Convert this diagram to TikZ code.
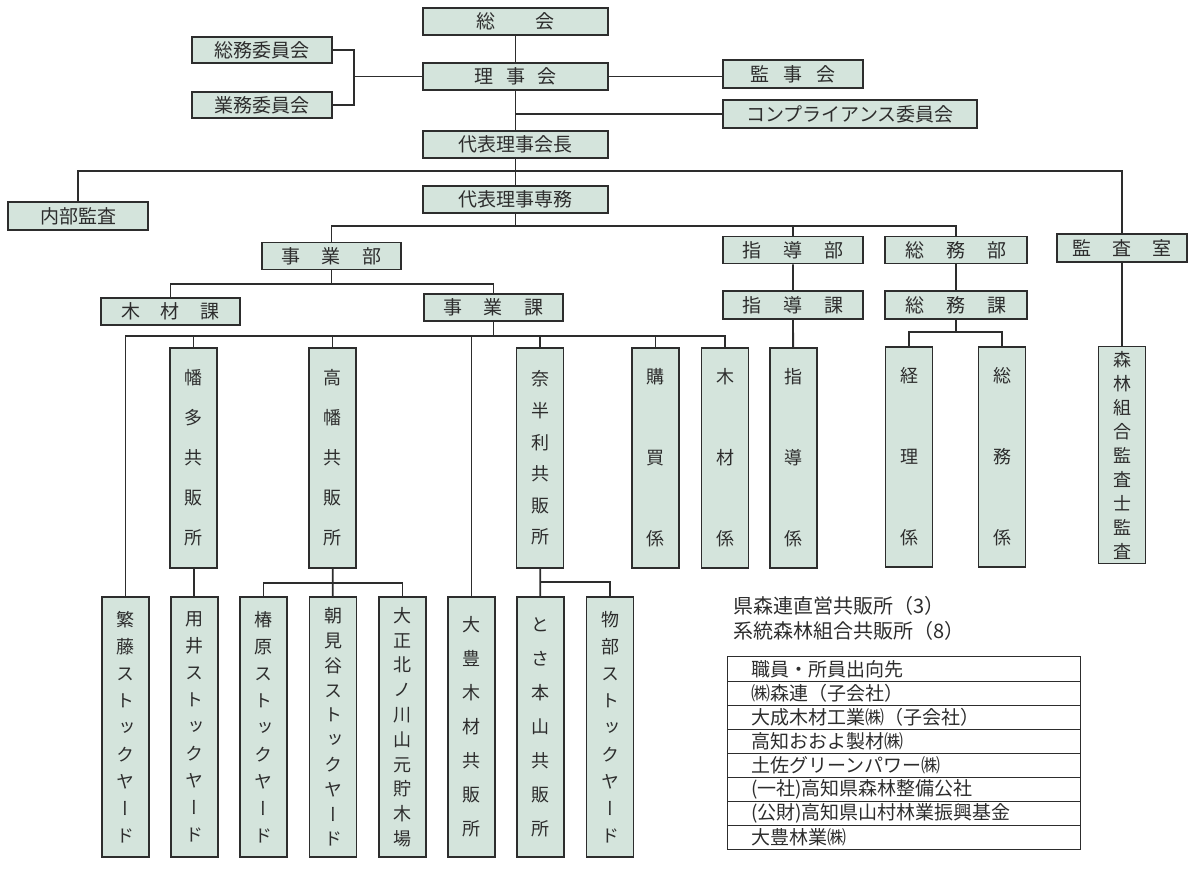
\documentclass[tikz,border=0pt]{standalone}
\usepackage{fontspec}
\usepackage{tikz}
\usetikzlibrary{positioning}
\newfontfamily\jp{Noto Sans CJK JP}
\newfontfamily\jpv[RawFeature=+vert]{Noto Sans CJK JP}
\definecolor{boxfill}{RGB}{212,228,220}
\definecolor{inkgray}{RGB}{45,45,45}
\tikzset{>=latex}
\tikzset{
	hbox/.style={draw=inkgray,fill=boxfill,line width=1.9pt,inner sep=0pt,minimum height=27pt,text=inkgray,font=\jp\fontsize{19pt}{22pt}\selectfont},
	vbox/.style={draw=inkgray,fill=boxfill,line width=1.9pt,inner sep=0pt,minimum width=47pt,text=inkgray,align=center},
	wire/.style={draw=inkgray,line width=1.8pt},
	rowbox/.style={draw=inkgray,line width=1pt,inner sep=0pt,minimum width=353pt,minimum height=24.1pt,text width=305pt,align=left,text=inkgray,font=\jp\fontsize{19pt}{22pt}\selectfont}
}
\newcommand\vfont[1]{\jpv\fontsize{18pt}{#1pt}\selectfont}
\newcommand\gap[1]{\hspace{#1pt}}

\begin{document}
\begin{tikzpicture}[x=1pt,y=-1pt]
	\useasboundingbox (0,0) rectangle (1194,880);

	% upper levels
	\node[hbox,minimum width=185pt] (sokai) at (515.5,21.5) {総\gap{41}会};
	\node[hbox,minimum width=185pt] (rijikai) at (515.5,76.5) {理\gap{13}事\gap{13}会};
	\node[hbox,minimum width=185pt] (kaicho) at (515.5,144.5) {代表理事会長};
	\node[hbox,minimum width=185pt] (senmu) at (515.5,199.5) {代表理事専務};
	\node[hbox,minimum width=140pt,minimum height=26pt] (somuiin) at (262,50) {総務委員会};
	\node[hbox,minimum width=140pt,minimum height=26pt] (gyomuiin) at (262,105) {業務委員会};
	\node[hbox,minimum width=140pt,minimum height=28pt] (kanjikai) at (793,74) {監\gap{14}事\gap{14}会};
	\node[hbox,minimum width=254pt,minimum height=28pt] (compl) at (850,114) {コンプライアンス委員会};
	\node[hbox,minimum width=140pt,minimum height=28pt] (naibu) at (78,216) {内部監査};

	\node[hbox,minimum width=139pt] (jigyobu) at (331.5,256) {事\gap{22}業\gap{22}部};
	\node[hbox,minimum width=140pt] (shidobu) at (793,250) {指\gap{22}導\gap{22}部};
	\node[hbox,minimum width=142pt] (somubu) at (956,250) {総\gap{22}務\gap{22}部};
	\node[hbox,minimum width=130pt,minimum height=28pt] (kansa) at (1122,248) {監\gap{21}査\gap{21}室};
	\node[hbox,minimum width=139pt] (mokuzaika) at (170.5,311.5) {木\gap{21}材\gap{21}課};
	\node[hbox,minimum width=139pt] (jigyoka) at (493.5,307.5) {事\gap{22}業\gap{22}課};
	\node[hbox,minimum width=140pt,minimum height=28pt] (shidoka) at (793,305) {指\gap{22}導\gap{22}課};
	\node[hbox,minimum width=142pt,minimum height=28pt] (somuka) at (956,305) {総\gap{22}務\gap{22}課};

	% first row of columns
	\node[vbox,minimum height=220pt,font=\vfont{40}] (hata) at (193.5,458) {幡\\多\\共\\販\\所};
	\node[vbox,minimum height=220pt,font=\vfont{40}] (takahata) at (332.5,458) {高\\幡\\共\\販\\所};
	\node[vbox,minimum height=220pt,font=\vfont{31.6}] (nahari) at (540,458) {奈\\半\\利\\共\\販\\所};
	\node[vbox,minimum height=220pt,font=\vfont{81}] (kobai) at (655.5,458) {購\\買\\係};
	\node[vbox,minimum height=220pt,font=\vfont{81}] (mokuzai) at (725,458) {木\\材\\係};
	\node[vbox,minimum height=220pt,font=\vfont{81}] (shido) at (793.5,458) {指\\導\\係};
	\node[vbox,minimum height=220pt,font=\vfont{81}] (keiri) at (909,457) {経\\理\\係};
	\node[vbox,minimum height=220pt,font=\vfont{81}] (somukakari) at (1002,457) {総\\務\\係};
	\node[vbox,minimum height=217pt,font=\vfont{24}] (mori) at (1122,455) {森\\林\\組\\合\\監\\査\\士\\監\\査};

	% second row of columns
	\node[vbox,minimum height=260pt,font=\vfont{27}] (shigefuji) at (125.5,727) {繁\\藤\\ス\\ト\\ッ\\ク\\ヤ\\ー\\ド};
	\node[vbox,minimum height=260pt,font=\vfont{27}] (yoi) at (194.5,727) {用\\井\\ス\\ト\\ッ\\ク\\ヤ\\ー\\ド};
	\node[vbox,minimum height=260pt,font=\vfont{27}] (tsubaki) at (263.5,727) {椿\\原\\ス\\ト\\ッ\\ク\\ヤ\\ー\\ド};
	\node[vbox,minimum height=260pt,font=\vfont{24.8}] (asamidani) at (333,727) {朝\\見\\谷\\ス\\ト\\ッ\\ク\\ヤ\\ー\\ド};
	\node[vbox,minimum height=260pt,font=\vfont{24.8}] (taisho) at (402.5,727) {大\\正\\北\\ノ\\川\\山\\元\\貯\\木\\場};
	\node[vbox,minimum height=260pt,font=\vfont{34}] (otoyo) at (471.5,727) {大\\豊\\木\\材\\共\\販\\所};
	\node[vbox,minimum height=260pt,font=\vfont{34}] (motoyama) at (540.5,727) {と\\さ\\本\\山\\共\\販\\所};
	\node[vbox,minimum height=260pt,font=\vfont{27}] (monobe) at (610,727) {物\\部\\ス\\ト\\ッ\\ク\\ヤ\\ー\\ド};

	% junction points
	\coordinate (iinbar) at (354,76.5);
	\coordinate (topbar) at (515.5,171);
	\coordinate (bubar) at (515.5,226);
	\coordinate (kabar) at (331.5,284);
	\coordinate (jgbar) at (493.5,336);
	\coordinate (somubar) at (956,332);
	\coordinate (takbar) at (332.5,583);
	\coordinate (nhbar) at (540,582);

	% connectors
	\draw[wire] (sokai) -- (rijikai) -- (kaicho) -- (senmu);
	\draw[wire] (somuiin.east) -| (iinbar) |- (gyomuiin.east);
	\draw[wire] (iinbar) -- (rijikai.west);
	\draw[wire] (rijikai.east) -- (rijikai.east -| kanjikai.west);
	\draw[wire] (compl.west) -- (compl.west -| rijikai.south);
	\draw[wire] (naibu.north) |- (topbar) -| (kansa.north);
	\draw[wire] (jigyobu.north) |- (bubar) -| (somubu.north);
	\draw[wire] (senmu.south) -- (bubar);
	\draw[wire] (shidobu.north) -- (shidobu.north |- bubar);
	\draw[wire] (mokuzaika.north) |- (kabar) -| (jigyoka.north);
	\draw[wire] (jigyobu.south) -- (kabar);
	\draw[wire] (shidobu) -- (shidoka) -- (shido);
	\draw[wire] (somubu) -- (somuka);
	\draw[wire] (keiri.north) |- (somubar) -| (somukakari.north);
	\draw[wire] (somuka.south) -- (somubar);
	\draw[wire] (kansa) -- (mori);
	\draw[wire] (shigefuji.north) |- (jgbar) -| (mokuzai.north);
	\draw[wire] (jigyoka.south) -- (jgbar);
	\foreach \n in {hata,takahata,nahari,kobai,otoyo}
		\draw[wire] (\n.north) -- (\n.north |- jgbar);
	\draw[wire] (hata) -- (yoi);
	\draw[wire] (tsubaki.north) |- (takbar) -| (taisho.north);
	\draw[wire] (takahata) -- (asamidani);
	\draw[wire] (nahari) -- (motoyama);
	\draw[wire] (nhbar) -| (monobe.north);

	% legend
	\node[anchor=west,text=inkgray,font=\jp\fontsize{20pt}{24pt}\selectfont] (legend1) at (730,606) {県森連直営共販所（3）};
	\node[anchor=west,text=inkgray,font=\jp\fontsize{20pt}{24pt}\selectfont] (legend2) at (730,631) {系統森林組合共販所（8）};
	\foreach \txt [count=\i] in {職員・所員出向先,㈱森連（子会社）,大成木材工業㈱（子会社）,高知おおよ製材㈱,土佐グリーンパワー㈱,{(一社)高知県森林整備公社},{(公財)高知県山村林業振興基金},大豊林業㈱}
		\node[rowbox] (row\i) at (903.5,{669+(\i-1)*24.1}) {\txt};
\end{tikzpicture}
\end{document}
